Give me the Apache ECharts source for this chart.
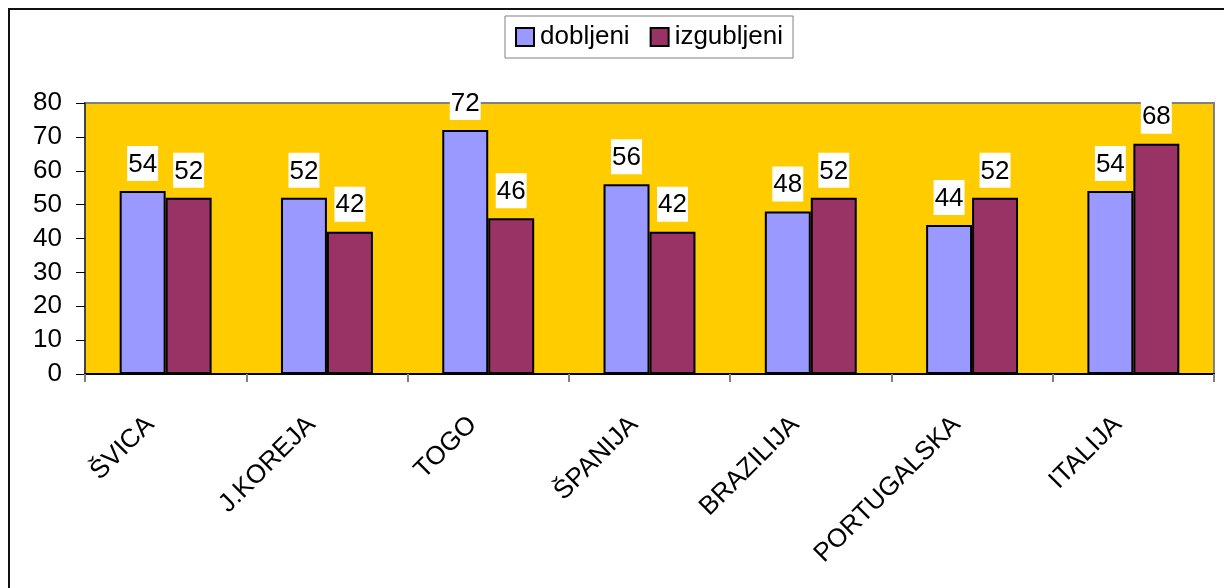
<!DOCTYPE html>
<html>
<head>
<meta charset="utf-8">
<script src="https://cdn.jsdelivr.net/npm/echarts@6/dist/echarts.min.js"></script>
<style>
  html, body { margin: 0; padding: 0; background: #fff; }
  #chart { width: 1224px; height: 588px; }
</style>
</head>
<body>
<div id="chart"></div>
<script>
// Goals scored and conceded per team
const categories = ['ŠVICA', 'J.KOREJA', 'TOGO', 'ŠPANIJA', 'BRAZILIJA', 'PORTUGALSKA', 'ITALIJA'];
const dobljeni = [54, 52, 72, 56, 48, 44, 54];
const izgubljeni = [52, 42, 46, 42, 52, 52, 68];
const yTicks = { min: 0, max: 80, interval: 10 };

const font = '"Liberation Sans", Arial, sans-serif';

const labelStyle = {
  show: true,
  position: 'top',
  distance: 10,
  backgroundColor: '#ffffff',
  padding: [5, 1, 3, 1],
  color: '#000',
  fontSize: 26,
  lineHeight: 27,
  fontFamily: font
};

const chart = echarts.init(document.getElementById('chart'));
chart.setOption({
  animation: false,
  backgroundColor: '#ffffff',
  textStyle: { fontFamily: font },
  graphic: [{
    // outer chart frame (left and top edges visible)
    type: 'rect',
    shape: { x: 9, y: 9, width: 1400, height: 800 },
    style: { fill: 'none', stroke: '#111', lineWidth: 2 },
    z: -10
  }],
  legend: {
    left: 505,
    top: 16,
    backgroundColor: '#ffffff',
    borderColor: '#808080',
    borderWidth: 1,
    padding: [8, 10],
    itemWidth: 18,
    itemHeight: 18,
    itemGap: 20,
    icon: 'rect',
    textStyle: { fontSize: 26, color: '#000', fontFamily: font, padding: [0, 0, 0, 1] },
    data: ['dobljeni', 'izgubljeni']
  },
  grid: {
    left: 85,
    right: 10,
    top: 103,
    bottom: 214,
    show: true,
    backgroundColor: '#FFCC00',
    borderColor: '#808080',
    borderWidth: 2
  },
  xAxis: {
    type: 'category',
    data: categories,
    axisLine: { lineStyle: { color: '#000', width: 2 } },
    axisTick: { show: true, length: 8, lineStyle: { color: '#808080', width: 2 } },
    axisLabel: {
      interval: 0, rotate: 45, fontSize: 26, color: '#000', margin: 31,
      padding: [0, 22, 0, 0], fontFamily: font
    }
  },
  yAxis: {
    type: 'value',
    min: yTicks.min,
    max: yTicks.max,
    interval: yTicks.interval,
    splitLine: { show: false },
    axisLine: { show: true, lineStyle: { color: '#444', width: 2 } },
    axisTick: { show: true, length: 9, lineStyle: { color: '#000', width: 1 } },
    axisLabel: { fontSize: 26, color: '#000', margin: 23, fontFamily: font }
  },
  series: [{
    name: 'dobljeni',
    type: 'bar',
    data: dobljeni,
    barGap: '0%',
    barCategoryGap: '43%',
    itemStyle: { color: '#9999FF', borderColor: '#000', borderWidth: 2 },
    label: labelStyle
  }, {
    name: 'izgubljeni',
    type: 'bar',
    data: izgubljeni,
    itemStyle: { color: '#993366', borderColor: '#000', borderWidth: 2 },
    label: labelStyle
  }]
});
</script>
</body>
</html>
